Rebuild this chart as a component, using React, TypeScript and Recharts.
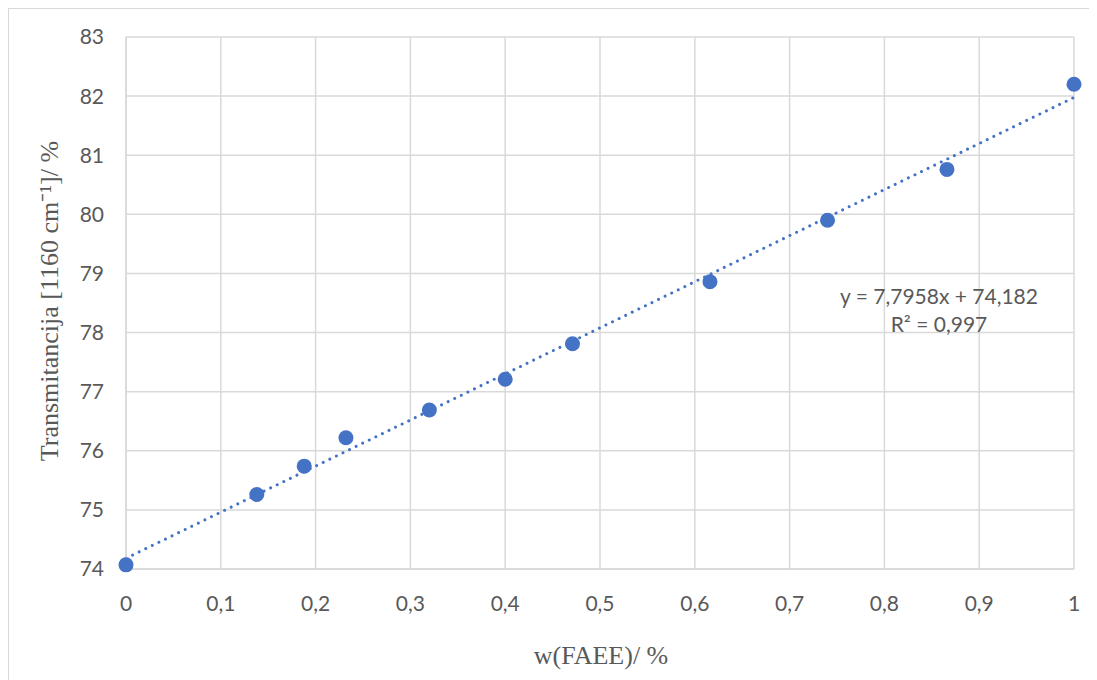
import { ComposedChart, Scatter, Line, XAxis, YAxis, CartesianGrid } from "recharts";

// measured points: w(FAEE) / transmittance at 1160 cm-1
const wFaee = [0, 0.138, 0.188, 0.232, 0.32, 0.4, 0.471, 0.616, 0.74, 0.866, 1];
const transm = [74.07, 75.26, 75.74, 76.22, 76.69, 77.21, 77.81, 78.86, 79.9, 80.76, 82.2];

// trendline end points as shown by the equation label
const trendX = [0, 1];
const trendY = [74.182, 81.978];

const xTicks = [0, 0.1, 0.2, 0.3, 0.4, 0.5, 0.6, 0.7, 0.8, 0.9, 1];
const yTicks = [74, 75, 76, 77, 78, 79, 80, 81, 82, 83];

const points = wFaee.map((x, i) => ({ x, y: transm[i] }));
const trend = trendX.map((x, i) => ({ x, y: trendY[i] }));

const grey = "#595959";
const tickFont = { fill: grey, fontSize: 21, fontFamily: "Lato, 'Open Sans', sans-serif" };

export default function App() {
  return (
    <div style={{ position: "relative", width: 1100, height: 680, borderTop: "1px solid #d9d9d9", borderLeft: "1px solid #d9d9d9", boxSizing: "border-box" }}>
      <ComposedChart width={1090} height={672} margin={{ top: 28, right: 25, left: 0, bottom: 0 }}>
        <CartesianGrid stroke="#d9d9d9" strokeWidth={1.5} />
        <XAxis
          type="number"
          dataKey="x"
          domain={[0, 1]}
          ticks={xTicks}
          tickFormatter={(v: number) => String(v).replace(".", ",")}
          tick={tickFont}
          tickLine={false}
          tickSize={0}
          tickMargin={27}
          axisLine={{ stroke: "#d9d9d9", strokeWidth: 1.5 }}
          height={112}
          interval={0}
        />
        <YAxis
          type="number"
          dataKey="y"
          domain={[74, 83]}
          ticks={yTicks}
          tick={tickFont}
          tickLine={false}
          tickSize={0}
          tickMargin={22}
          axisLine={{ stroke: "#d9d9d9", strokeWidth: 1.5 }}
          width={117}
          interval={0}
        />
        <Line
          data={trend}
          dataKey="y"
          stroke="#4472C4"
          strokeWidth={3}
          strokeDasharray="0.01 7.3"
          strokeLinecap="round"
          dot={false}
          activeDot={false}
          isAnimationActive={false}
        />
        <Scatter data={points} fill="#4472C4" shape={(p: any) => <circle cx={p.cx} cy={p.cy} r={7.5} fill="#4472C4" />} isAnimationActive={false} />
      </ComposedChart>
      <div
        style={{
          position: "absolute",
          left: 47 - 8,
          top: 300 - 8,
          transform: "translate(-50%, -50%) rotate(-90deg)",
          whiteSpace: "nowrap",
          fontFamily: "'Liberation Serif', serif",
          fontSize: 26,
          color: grey,
        }}
      >
        Transmitancija [1160 cm⁻¹]/ %
      </div>
      <div
        style={{
          position: "absolute",
          left: 600 - 8,
          top: 655 - 8,
          transform: "translate(-50%, -50%)",
          whiteSpace: "nowrap",
          fontFamily: "'Liberation Serif', serif",
          fontSize: 26,
          color: grey,
        }}
      >
        w(FAEE)/ %
      </div>
      <div
        style={{
          position: "absolute",
          left: 938 - 8,
          top: 309 - 8,
          transform: "translate(-50%, -50%)",
          whiteSpace: "nowrap",
          textAlign: "center",
          fontFamily: "Lato, sans-serif",
          fontSize: 21,
          lineHeight: "28px",
          color: grey,
        }}
      >
        y = 7,7958x + 74,182
        <br />
        R² = 0,997
      </div>
    </div>
  );
}
